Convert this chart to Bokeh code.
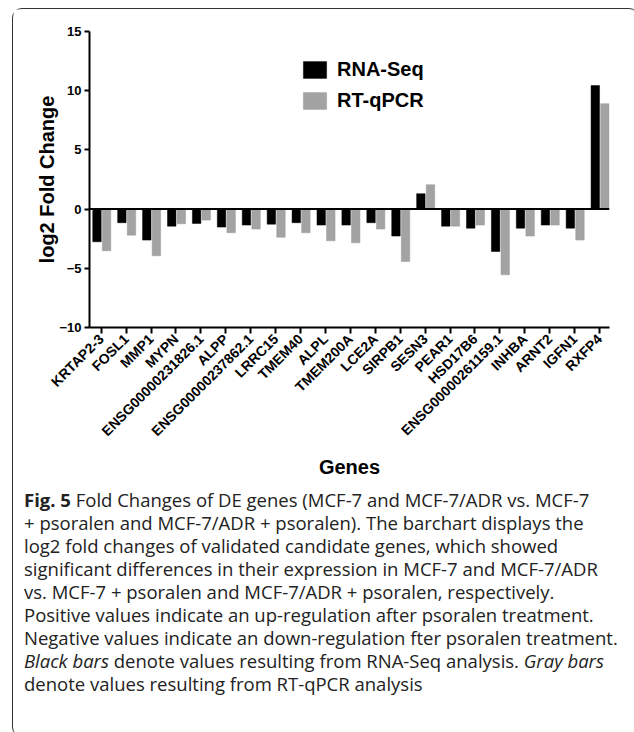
import math
from bokeh.plotting import figure
from bokeh.layouts import column
from bokeh.models import (Range1d, FixedTicker, Span, Legend, LegendItem, Div,
                          ColumnDataSource)
from bokeh.transform import dodge
from bokeh.embed import file_html
from bokeh.resources import INLINE

genes = ["KRTAP2-3", "FOSL1", "MMP1", "MYPN", "ENSG00000231826.1", "ALPP",
         "ENSG00000237862.1", "LRRC15", "TMEM40", "ALPL", "TMEM200A", "LCE2A",
         "SIRPB1", "SESN3", "PEAR1", "HSD17B6", "ENSG00000261159.1", "INHBA",
         "ARNT2", "IGFN1", "RXFP4"]
rna_seq = [-2.76, -1.15, -2.62, -1.44, -1.21, -1.52, -1.35, -1.27, -1.15, -1.35,
           -1.35, -1.15, -2.28, 1.30, -1.44, -1.61, -3.58, -1.61, -1.35, -1.61, 10.43]
rt_qpcr = [-3.52, -2.20, -3.94, -1.24, -0.93, -2.00, -1.69, -2.37, -2.00, -2.68,
           -2.85, -1.69, -4.42, 2.06, -1.44, -1.35, -5.55, -2.28, -1.35, -2.62, 8.90]
y_ticks = [-10, -5, 0, 5, 10, 15]
series_names = ["RNA-Seq", "RT-qPCR"]

caption_html = (
    "<b>Fig. 5</b> Fold Changes of DE genes (MCF-7 and MCF-7/ADR vs. MCF-7<br>"
    "+ psoralen and MCF-7/ADR + psoralen). The barchart displays the<br>"
    "log2 fold changes of validated candidate genes, which showed<br>"
    "significant differences in their expression in MCF-7 and MCF-7/ADR<br>"
    "vs. MCF-7 + psoralen and MCF-7/ADR + psoralen, respectively.<br>"
    "Positive values indicate an up-regulation after psoralen treatment.<br>"
    "Negative values indicate an down-regulation fter psoralen treatment.<br>"
    "<i>Black bars</i> denote values resulting from RNA-Seq analysis. <i>Gray bars</i><br>"
    "denote values resulting from RT-qPCR analysis"
)

src = ColumnDataSource(dict(idx=list(range(len(genes))), rna=rna_seq, qpcr=rt_qpcr))

FONT = "Liberation Sans"

p = figure(width=615, height=480, output_backend="svg", toolbar_location=None,
           x_range=Range1d(-0.47, 20.40), y_range=Range1d(-10, 15),
           min_border_left=76, min_border_right=19, min_border_top=22,
           min_border_bottom=162, background_fill_color="white",
           border_fill_color="white")
p.grid.visible = False
p.outline_line_color = None

r1 = p.vbar(x=dodge("idx", -0.17), top="rna", bottom=0, width=0.34, source=src,
            fill_color="black", line_color="black", line_width=0.5)
r2 = p.vbar(x=dodge("idx", 0.215), top="qpcr", bottom=0, width=0.34, source=src,
            fill_color="#a3a3a3", line_color="#9a9a9a", line_width=0.5)

p.add_layout(Span(location=0, dimension="width", line_color="black", line_width=2))

for ax in (p.xaxis[0], p.yaxis[0]):
    ax.axis_line_width = 2
    ax.axis_line_color = "black"
    ax.major_tick_line_width = 2
    ax.major_tick_line_color = "black"
    ax.minor_tick_line_color = None
    ax.major_tick_in = 0
    ax.major_label_text_font = FONT
    ax.major_label_text_font_style = "bold"
    ax.major_label_text_color = "black"
    ax.axis_label_text_font = FONT
    ax.axis_label_text_font_style = "bold"
    ax.axis_label_text_color = "black"
    ax.axis_label_text_font_size = "20px"

p.yaxis.ticker = FixedTicker(ticks=y_ticks)
p.yaxis.major_tick_out = 5
p.yaxis.major_label_standoff = 3
p.yaxis.major_label_text_font_size = "13px"
p.yaxis.axis_label = "log2 Fold Change"
p.yaxis.axis_label_standoff = -2

p.xaxis.ticker = FixedTicker(ticks=list(range(len(genes))))
p.xaxis.major_label_overrides = {i: g for i, g in enumerate(genes)}
p.xaxis.major_label_orientation = math.pi / 4
p.xaxis.major_tick_out = 6
p.xaxis.major_label_standoff = 3
p.xaxis.major_label_text_font_size = "14px"
p.xaxis.axis_label = "Genes"
p.xaxis.axis_label_standoff = 8

legend = Legend(items=[LegendItem(label=series_names[0], renderers=[r1]),
                       LegendItem(label=series_names[1], renderers=[r2])],
                location=(211, 215), orientation="vertical",
                glyph_width=29, glyph_height=21, label_standoff=8,
                label_text_font=FONT, label_text_font_style="bold",
                label_text_color="black",
                label_text_font_size="20px", label_height=22, spacing=8,
                padding=0, margin=0, border_line_color=None,
                background_fill_alpha=0)
p.add_layout(legend)

div = Div(
    text=('<div style="margin:-6px 0 0 6px; font-family:\'Open Sans\'; font-size:18.5px; '
          'line-height:23px; color:#222; white-space:nowrap;">' + caption_html + '</div>'),
    width=615, height=237,
)

layout = column(p, div, margin=(8, 0, 0, 12),
                styles={"border": "1.5px solid #333", "border-radius": "10px",
                        "background-color": "white"})

open("out.html", "w").write(file_html(layout, INLINE))
